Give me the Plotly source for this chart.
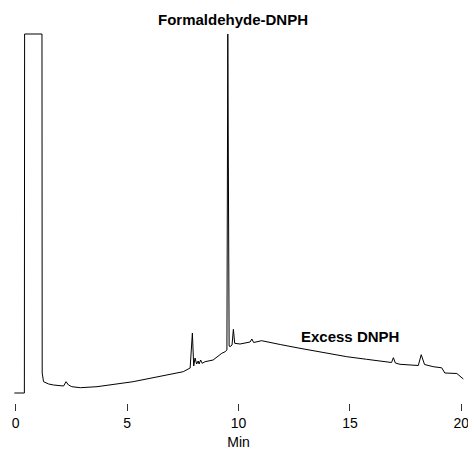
import plotly.graph_objects as go

# Retention time (min) and detector response (arbitrary units)
time_min = [-0.06, 0.39, 0.40, 1.18, 1.19, 1.25, 1.48, 1.70, 2.15, 2.26, 2.37, 2.52, 2.90, 3.65,
            5.27, 6.62, 7.52, 7.83, 7.93, 7.99, 8.05, 8.12, 8.19, 8.23, 8.30, 8.37, 8.50, 8.86,
            9.25, 9.40, 9.48, 9.52, 9.58, 9.62, 9.71, 9.77, 9.83, 10.07, 10.37, 10.52, 10.60,
            10.68, 11.04, 11.42, 11.87, 12.76, 13.66, 14.86, 15.75, 16.72, 16.87, 16.95, 17.04,
            17.25, 17.84, 18.07, 18.20, 18.35, 18.74, 19.12, 19.26, 19.80, 20.09]
response = [0, 0, 359, 359, 20, 11.3, 9, 8, 7, 11.3, 8, 6.3, 5.3, 6.3,
            11.3, 17, 21.3, 25, 60, 27, 35, 29, 32, 29, 33, 29.7, 31.3, 33,
            39.7, 41.3, 43, 359, 47, 46.3, 48, 63.7, 49.7, 49, 50.3, 51, 54,
            50.5, 52.3, 50.3, 48.5, 44.7, 41.3, 36.3, 33.7, 30.3, 30.5, 35.3, 30,
            28.7, 27.3, 27.5, 38.3, 28.5, 26.3, 25.2, 20, 19.5, 14]

tick_vals = [0, 5, 10, 15, 20]
tick_text = ["0", "5", "10", "15", "20"]

labels = ["Formaldehyde-DNPH", "Excess DNPH"]
label_x = [9.74, 15.0]

fig = go.Figure()
fig.add_trace(go.Scatter(x=time_min, y=response, mode="lines",
                         line=dict(color="black", width=1), hoverinfo="skip",
                         showlegend=False))

fig.add_annotation(x=label_x[0], y=1.027, xref="x", yref="paper", text=labels[0],
                   showarrow=False, font=dict(family="Liberation Sans", size=15, color="black"),
                   xanchor="center", yanchor="middle")
fig.add_annotation(x=label_x[1], y=57, xref="x", yref="y", text=labels[1],
                   showarrow=False, font=dict(family="Liberation Sans", size=15, color="black"),
                   xanchor="center", yanchor="middle")
fig.update_annotations(font_weight="bold")

fig.update_xaxes(range=[-0.3, 20.3], tickvals=tick_vals, ticktext=tick_text,
                 ticks="outside", ticklen=7, tickcolor="#333", tickwidth=1,
                 showline=False, showgrid=False, zeroline=False, automargin=False,
                 tickfont=dict(family="Liberation Sans", size=14, color="black"),
                 title=dict(text="Min", font=dict(family="Liberation Sans", size=14, color="black")))
fig.update_yaxes(range=[-10, 363], visible=False, showgrid=False, zeroline=False,
                 automargin=False)

# the page body adds an 8px offset, so the figure is 8px smaller than the window
fig.update_layout(width=468, height=442,
                  margin=dict(l=1, r=8, t=22, b=47, autoexpand=False),
                  plot_bgcolor="white", paper_bgcolor="white")

fig.write_html("out.html")
